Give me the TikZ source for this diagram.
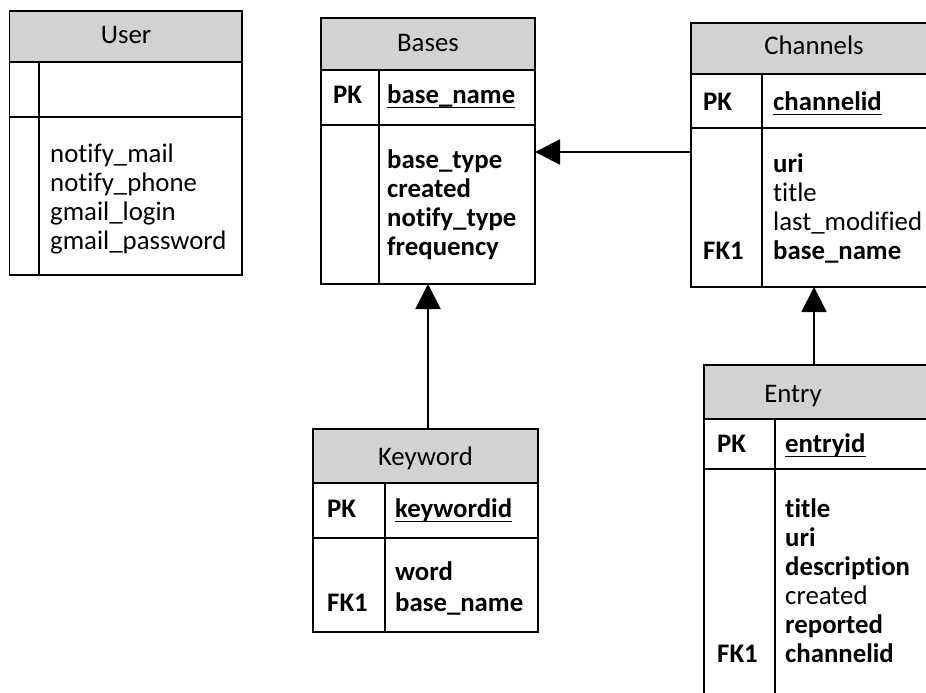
\documentclass[tikz,border=0pt]{standalone}
\usepackage{fontspec}
\setmainfont{Carlito}[Ligatures={NoCommon}]
\usetikzlibrary{arrows.meta}
\definecolor{hdrgray}{RGB}{210,210,210}
\tikzset{
  tbox/.style={draw, line width=1.6pt, inner sep=0pt, outer sep=0pt, anchor=north west},
  thdr/.style={tbox, fill=hdrgray},
  divl/.style={line width=1.6pt},
  ftxt/.style={inner sep=0pt, anchor=base west, font=\fontsize{26.8}{29}\selectfont},
  btxt/.style={ftxt, font=\fontsize{26.8}{29}\selectfont\bfseries},
  ttl/.style={inner sep=0pt, anchor=base, font=\fontsize{26.8}{29}\selectfont},
  uline/.style={line width=1.5pt},
  conn/.style={line width=2pt, -{Triangle[length=25pt,width=25pt]}}
}
\begin{document}
\begin{tikzpicture}[x=1pt,y=-1pt]
\useasboundingbox (0,0) rectangle (926,693);
\clip (0,0) rectangle (926,693);
% ---------- User ----------
\node[thdr, minimum width=232.5pt, minimum height=51pt] (user-h) at (9.5,11) {};
\node[tbox, minimum width=232.5pt, minimum height=55pt] (user-k) at (9.5,62) {};
\node[tbox, minimum width=232.5pt, minimum height=158pt] (user-b) at (9.5,117) {};
\draw[divl] (39,62) -- (39,275);
\node[ttl] (user-t) at (126,44) {User};
\node[ftxt] (user-f1) at (50,162) {notify\_mail};
\node[ftxt] (user-f2) at (50,191) {notify\_phone};
\node[ftxt] (user-f3) at (50,220) {gmail\_login};
\node[ftxt] (user-f4) at (50,249) {gmail\_password};
% ---------- Bases ----------
\node[thdr, minimum width=214pt, minimum height=52pt] (bases-h) at (321,18) {};
\node[tbox, minimum width=214pt, minimum height=55pt] (bases-k) at (321,70) {};
\node[tbox, minimum width=214pt, minimum height=159pt] (bases-b) at (321,125) {};
\draw[divl] (379,70) -- (379,284);
\node[ttl] (bases-t) at (428,52) {Bases};
\node[btxt] (bases-pk) at (333,103) {PK};
\node[btxt] (bases-k1) at (387,103) {base\_name};
\draw[uline] ([yshift=-4.5pt]bases-k1.base west) -- ([yshift=-4.5pt]bases-k1.base east);
\node[btxt] (bases-f1) at (387,168) {base\_type};
\node[btxt] (bases-f2) at (387,197) {created};
\node[btxt] (bases-f3) at (387,226) {notify\_type};
\node[btxt] (bases-f4) at (387,255) {frequency};
% ---------- Channels ----------
\node[thdr, minimum width=246pt, minimum height=51pt] (chan-h) at (691,23) {};
\node[tbox, minimum width=246pt, minimum height=54pt] (chan-k) at (691,74) {};
\node[tbox, minimum width=246pt, minimum height=159pt] (chan-b) at (691,128) {};
\draw[divl] (762,74) -- (762,287);
\node[ttl] (chan-t) at (814,55) {Channels};
\node[btxt] (chan-pk) at (703,110) {PK};
\node[btxt] (chan-k1) at (773,110) {channelid};
\draw[uline] ([yshift=-4.5pt]chan-k1.base west) -- ([yshift=-4.5pt]chan-k1.base east);
\node[btxt] (chan-f1) at (773,172) {uri};
\node[ftxt] (chan-f2) at (773,201) {title};
\node[ftxt] (chan-f3) at (773,230) {last\_modified};
\node[btxt] (chan-f4) at (773,259) {base\_name};
\node[btxt] (chan-fk) at (703,259) {FK1};
% ---------- Keyword ----------
\node[thdr, minimum width=225pt, minimum height=54pt] (kw-h) at (313,429) {};
\node[tbox, minimum width=225pt, minimum height=55pt] (kw-k) at (313,483) {};
\node[tbox, minimum width=225pt, minimum height=94pt] (kw-b) at (313,538) {};
\draw[divl] (385,483) -- (385,632);
\node[ttl] (kw-t) at (425.5,465) {Keyword};
\node[btxt] (kw-pk) at (327,517) {PK};
\node[btxt] (kw-k1) at (395,517) {keywordid};
\draw[uline] ([yshift=-4.5pt]kw-k1.base west) -- ([yshift=-4.5pt]kw-k1.base east);
\node[btxt] (kw-f1) at (395,580) {word};
\node[btxt] (kw-f2) at (395,611) {base\_name};
\node[btxt] (kw-fk) at (327,611) {FK1};
% ---------- Entry ----------
\node[thdr, minimum width=236pt, minimum height=54pt] (en-h) at (704,365) {};
\node[tbox, minimum width=236pt, minimum height=50pt] (en-k) at (704,419) {};
\node[tbox, minimum width=236pt, minimum height=260pt] (en-b) at (704,469) {};
\draw[divl] (775,419) -- (775,729);
\node[ttl] (en-t) at (793,402) {Entry};
\node[btxt] (en-pk) at (717,452) {PK};
\node[btxt] (en-k1) at (785,452) {entryid};
\draw[uline] ([yshift=-4.5pt]en-k1.base west) -- ([yshift=-4.5pt]en-k1.base east);
\node[btxt] (en-f1) at (785,517) {title};
\node[btxt] (en-f2) at (785,546) {uri};
\node[btxt] (en-f3) at (785,575) {description};
\node[ftxt] (en-f4) at (785,604) {created};
\node[btxt] (en-f5) at (785,633) {reported};
\node[btxt] (en-f6) at (785,662) {channelid};
\node[btxt] (en-fk) at (717,662) {FK1};
% ---------- Connectors ----------
\coordinate (a1) at (691,152);
\draw[conn] (a1) -- (bases-b.east |- a1);
\draw[conn] (bases-b.south |- kw-h.north) -- (bases-b.south);
\draw[conn] (chan-b.south |- en-h.north) -- (chan-b.south);
\end{tikzpicture}
\end{document}
